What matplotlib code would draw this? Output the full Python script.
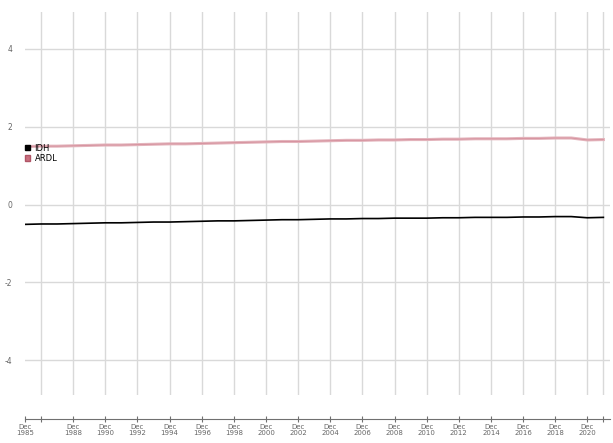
import matplotlib.pyplot as plt
from matplotlib.patches import Patch

plt.rcParams['axes.unicode_minus'] = False

years = list(range(1985, 2022))
idh = [-0.51, -0.50, -0.50, -0.49, -0.48, -0.47, -0.47, -0.46, -0.45, -0.45,
       -0.44, -0.43, -0.42, -0.42, -0.41, -0.40, -0.39, -0.39, -0.38, -0.37,
       -0.37, -0.36, -0.36, -0.35, -0.35, -0.35, -0.34, -0.34, -0.33, -0.33,
       -0.33, -0.32, -0.32, -0.31, -0.31, -0.34, -0.33]
ardl = [1.49, 1.50, 1.50, 1.51, 1.52, 1.53, 1.53, 1.54, 1.55, 1.56,
        1.56, 1.57, 1.58, 1.59, 1.60, 1.61, 1.62, 1.62, 1.63, 1.64,
        1.65, 1.65, 1.66, 1.66, 1.67, 1.67, 1.68, 1.68, 1.69, 1.69,
        1.69, 1.70, 1.70, 1.71, 1.71, 1.66, 1.67]
tick_years = [1985, 1986, 1988, 1990, 1992, 1994, 1996, 1998, 2000, 2002, 2004,
              2006, 2008, 2010, 2012, 2014, 2016, 2018, 2020, 2021]
labelled = [1985, 1988, 1990, 1992, 1994, 1996, 1998, 2000, 2002, 2004,
            2006, 2008, 2010, 2012, 2014, 2016, 2018, 2020]
yticks = [-4, -2, 0, 2, 4]

fig = plt.figure(figsize=(6.13, 4.43), dpi=100)
ax = fig.add_axes([0.0408, 0.108, 0.954, 0.865])

grid_col = '#d9d9d9'
for t in yticks:
    ax.axhline(t, color=grid_col, lw=1, zorder=0)
for t in tick_years[1:]:
    ax.axvline(t, color=grid_col, lw=1, zorder=0)

ax.plot(years, ardl, color='#e3b3bb', lw=2.2, zorder=2)
ax.plot(years, ardl, color='#d58f9c', lw=0.6, zorder=3)
ax.plot(years, idh, color='black', lw=1.2, zorder=3)

ax.set_xlim(1985, 2021.4)
ax.set_ylim(-4.9, 4.95)

for s in ['top', 'right', 'left']:
    ax.spines[s].set_visible(False)
ax.spines['bottom'].set_position(('outward', 17))
ax.spines['bottom'].set_color('#707070')
ax.spines['bottom'].set_linewidth(0.8)

ax.set_xticks(tick_years)
ax.set_xticklabels(['Dec\n%d' % y if y in labelled else '' for y in tick_years],
                   linespacing=1.05)
ax.tick_params(axis='x', direction='inout', length=5, width=0.8, color='#707070',
               labelsize=5, labelcolor='#666666', pad=1)
ax.set_yticks(yticks)
ax.tick_params(axis='y', length=0, labelsize=5.5, labelcolor='#666666', pad=9)

handles = [Patch(facecolor='black', edgecolor='black', label='IDH'),
           Patch(facecolor='#c9707f', edgecolor='#b05566', label='ARDL')]
ax.legend(handles=handles, loc='upper left', bbox_to_anchor=(-0.005, 0.665),
          frameon=False, fontsize=6, handlelength=0.6, handleheight=0.6,
          handletextpad=0.5, labelspacing=0.15, borderaxespad=0)

fig.savefig('out.png', dpi=100)
